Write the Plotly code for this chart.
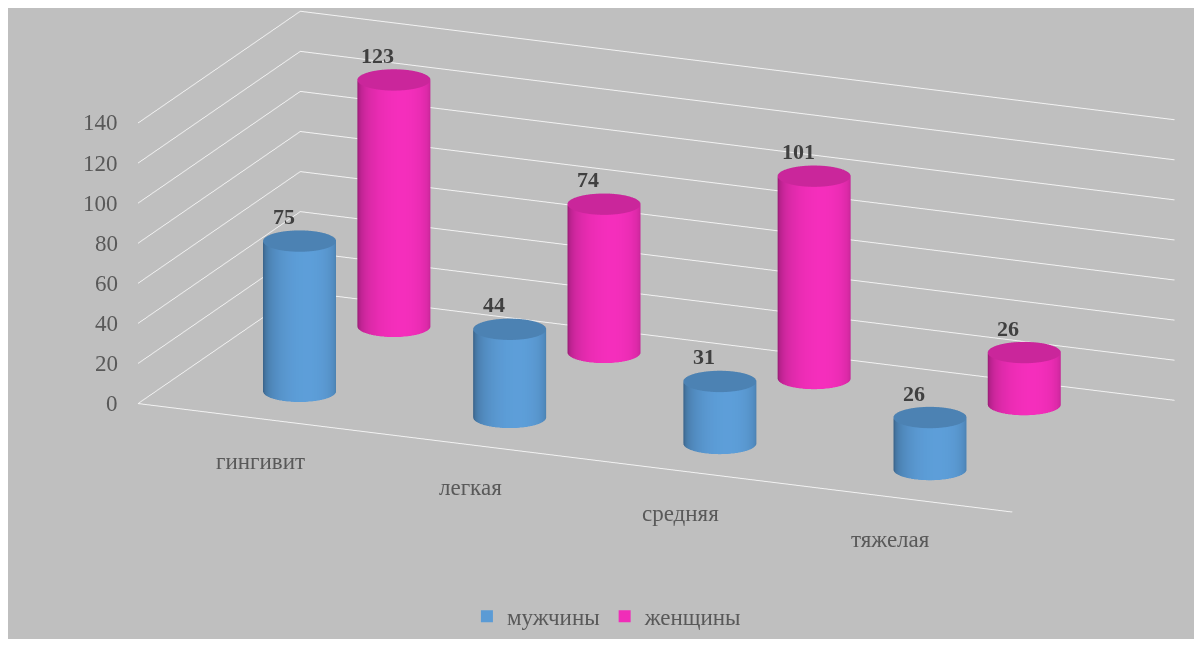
import numpy as np
import plotly.graph_objects as go

categories = ["гингивит", "легкая", "средняя", "тяжелая"]
men = [75, 44, 31, 26]
women = [123, 74, 101, 26]
series_names = ["мужчины", "женщины"]
z_ticks = [0, 20, 40, 60, 80, 100, 120, 140]

BLUE = "#5B9BD5"
PINK = "#F02DB8"
BG = "#BFBFBF"
TXT = "#595959"
LBL = "#404040"
FONT = "Liberation Serif"

X_RANGE = [-0.58, 3.58]
Y_RANGE = [-0.42, 1.3]
Z_RANGE = [0, 140]
ASPECT = dict(x=3.01, y=1.316, z=0.93)
EPS = 1e-3  # keeps in-scene labels strictly inside the axis ranges

# camera (orthographic) angles and placement
PHI = np.radians(23.0)
PITCH = np.radians(17.0)
DIST = 2.2
PX_PER_UNIT = 700.0 / DIST          # screen pixels per normalised scene unit
ANCHOR_SHIFT = (-304.0, 68.5)       # wanted screen offset of the first front bar's base from scene centre

R = 0.16
sx = ASPECT["x"] / (X_RANGE[1] - X_RANGE[0])
sy = ASPECT["y"] / (Y_RANGE[1] - Y_RANGE[0])
RY = R * sx / sy


def rgb_scaled(hexcol, f):
    r, g, b = (int(hexcol[k:k + 2], 16) for k in (1, 3, 5))
    return "rgb(%d,%d,%d)" % (min(255, round(r * f)), min(255, round(g * f)), min(255, round(b * f)))


def cylinders(vals, ypos, col, n=72):
    xs, ys, zs, I, J, K, C = [], [], [], [], [], [], []
    th = np.linspace(0, 2 * np.pi, n, endpoint=False)
    la = PHI + np.radians(12)
    ldir = np.array([np.sin(la), -np.cos(la)])
    side_cols = []
    for t in th:
        nd = max(0.0, np.cos(t) * ldir[0] + np.sin(t) * ldir[1])
        side_cols.append(rgb_scaled(col, 0.66 + 0.36 * nd ** 0.7))
    top_col = rgb_scaled(col, 0.84)
    for ci, v in enumerate(vals):
        cx, cy = ci, ypos
        rx = list(cx + R * np.cos(th))
        ry = list(cy + RY * np.sin(th))
        b = len(xs)
        xs += rx + rx
        ys += ry + ry
        zs += [0] * n + [v] * n
        C += side_cols + side_cols
        for k in range(n):
            k2 = (k + 1) % n
            I += [b + k, b + k2]
            J += [b + k2, b + n + k2]
            K += [b + n + k, b + n + k]
        b2 = len(xs)
        xs += rx + [cx]
        ys += ry + [cy]
        zs += [v] * (n + 1)
        C += [top_col] * (n + 1)
        for k in range(n):
            I.append(b2 + k)
            J.append(b2 + (k + 1) % n)
            K.append(b2 + n)
    return xs, ys, zs, I, J, K, C


fig = go.Figure()
for vals, ypos, col in [(women, 1, PINK), (men, 0, BLUE)]:
    xs, ys, zs, I, J, K, C = cylinders(vals, ypos, col)
    fig.add_trace(go.Mesh3d(x=xs, y=ys, z=zs, i=I, j=J, k=K, vertexcolor=C,
                            flatshading=False,
                            lighting=dict(ambient=1.0, diffuse=0.0, specular=0.0,
                                          roughness=1.0, fresnel=0.0),
                            hoverinfo="skip", showlegend=False))

# legend entries
for name, col in [(series_names[0], BLUE), (series_names[1], PINK)]:
    fig.add_trace(go.Scatter3d(x=[None], y=[None], z=[None], mode="markers", name=name,
                               marker=dict(symbol="square", size=12, color=col)))

annotations = []
for vals, ypos in [(men, 0), (women, 1)]:
    for i, v in enumerate(vals):
        annotations.append(dict(x=i, y=ypos, z=min(v, Z_RANGE[1] - EPS), text=str(v), showarrow=False,
                                xanchor="center", yanchor="bottom", xshift=-16, yshift=10,
                                font=dict(family=FONT, size=22, color=LBL, weight="bold")))
for t in z_ticks:
    zt = min(max(t, Z_RANGE[0] + EPS), Z_RANGE[1] - EPS)
    annotations.append(dict(x=X_RANGE[0] + EPS, y=Y_RANGE[0] + EPS, z=zt, text=str(t), showarrow=False,
                            xanchor="right", yanchor="middle", xshift=-18,
                            font=dict(family=FONT, size=23, color=TXT)))
for i, c in enumerate(categories):
    annotations.append(dict(x=i, y=Y_RANGE[0] + EPS, z=Z_RANGE[0] + EPS, text=c, showarrow=False,
                            xanchor="center", yanchor="top", yshift=-28,
                            font=dict(family=FONT, size=23, color=TXT)))

ax_common = dict(showbackground=False, showticklabels=False, title=dict(text=""),
                 showspikes=False, ticks="", zeroline=False)


def norm(val, rng, asp):
    return (val - (rng[0] + rng[1]) / 2) / (rng[1] - rng[0]) * asp


# camera vectors
dirv = np.array([np.sin(PHI) * np.cos(PITCH), -np.cos(PHI) * np.cos(PITCH), np.sin(PITCH)])
right = np.array([np.cos(PHI), np.sin(PHI), 0.0])
up = np.array([-np.sin(PHI) * np.sin(PITCH), np.cos(PHI) * np.sin(PITCH), np.cos(PITCH)])
anchor = np.array([norm(0, X_RANGE, ASPECT["x"]), norm(0, Y_RANGE, ASPECT["y"]),
                   norm(0, Z_RANGE, ASPECT["z"])])
a = ANCHOR_SHIFT[0] / PX_PER_UNIT
b = -ANCHOR_SHIFT[1] / PX_PER_UNIT
cen = anchor - (a * right + b * up)
eye = cen + DIST * dirv

fig.update_layout(
    width=1186, height=631,
    margin=dict(l=0, r=0, t=0, b=0),
    paper_bgcolor=BG,
    font=dict(family=FONT, color=TXT),
    scene=dict(
        domain=dict(x=[0, 1], y=[0, 1]),
        xaxis=dict(range=X_RANGE, showgrid=False, showline=True, linecolor="#f2f2f2", linewidth=2, **ax_common),
        yaxis=dict(range=Y_RANGE, showgrid=False, showline=False, **ax_common),
        zaxis=dict(range=Z_RANGE, tickvals=z_ticks, showgrid=True, gridcolor="#f2f2f2", gridwidth=2,
                   showline=False, **ax_common),
        aspectmode="manual", aspectratio=ASPECT,
        camera=dict(eye=dict(x=eye[0], y=eye[1], z=eye[2]),
                    center=dict(x=cen[0], y=cen[1], z=cen[2]),
                    up=dict(x=0, y=0, z=1),
                    projection=dict(type="orthographic")),
        annotations=annotations,
    ),
    legend=dict(orientation="h", x=0.505, xanchor="center", y=0.036, yanchor="middle",
                font=dict(family=FONT, size=23, color=TXT), bgcolor="rgba(0,0,0,0)"),
)

fig.write_html("out.html", config={"displayModeBar": False})
